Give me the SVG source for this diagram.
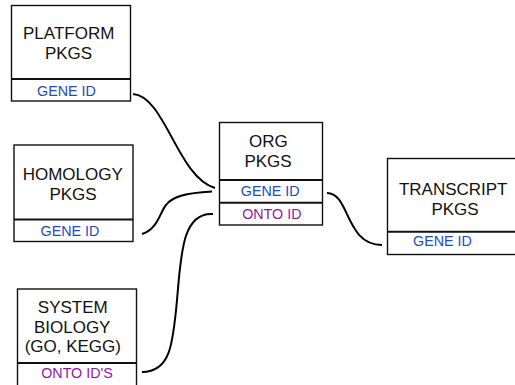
<svg xmlns="http://www.w3.org/2000/svg" width="515" height="385" viewBox="0 0 515 385">
<style>
.box{fill:#fff;stroke:#111;stroke-width:1.4}
.div{stroke:#111;stroke-width:2}
.t{font-family:"Liberation Sans",Arial,sans-serif;font-size:17px;fill:#111;text-anchor:middle}
.g{font-family:"Liberation Sans",Arial,sans-serif;font-size:14.3px;fill:#1f4db5;text-anchor:middle}
.o{font-family:"Liberation Sans",Arial,sans-serif;font-size:14.3px;fill:#8e1b9e;text-anchor:middle}
.c{fill:none;stroke:#000;stroke-width:2}
</style>
<rect width="515" height="385" fill="#fff"/>
<g id="connectors">
<path class="c" d="M133,94 C165,96 178,178 215,188"/>
<path class="c" d="M142,234 C158,229 160,212 166,205 C172,197 185,193 212,191.5"/>
<path class="c" d="M142,372 C170,372 173,345 177,300 C181,255 182,212 213,214"/>
<path class="c" d="M327,193 C350,193 345,245 382,245"/>
</g>
<g id="platform">
<rect class="box" x="11.5" y="5.5" width="119" height="95.5"/>
<line class="div" x1="11.5" y1="79" x2="130.5" y2="79"/>
<text class="t" x="68.7" y="38.5">PLATFORM</text>
<text class="t" x="68.5" y="59">PKGS</text>
<text class="g" x="66.5" y="96">GENE ID</text>
</g>
<g id="homology">
<rect class="box" x="14" y="145" width="119" height="96.5"/>
<line class="div" x1="14" y1="219.5" x2="133" y2="219.5"/>
<text class="t" x="72.7" y="180">HOMOLOGY</text>
<text class="t" x="73" y="200">PKGS</text>
<text class="g" x="70" y="236">GENE ID</text>
</g>
<g id="system">
<rect class="box" x="17.5" y="289" width="119" height="100"/>
<line class="div" x1="17.5" y1="363" x2="136.5" y2="363"/>
<text class="t" x="72.8" y="312.7">SYSTEM</text>
<text class="t" x="72.2" y="332.7">BIOLOGY</text>
<text class="t" x="72.8" y="352">(GO, KEGG)</text>
<text class="o" x="77" y="378">ONTO ID'S</text>
</g>
<g id="org">
<rect class="box" x="219.5" y="122.5" width="103" height="102.5"/>
<line class="div" x1="219.5" y1="180" x2="322.5" y2="180"/>
<line class="div" x1="219.5" y1="202.7" x2="322.5" y2="202.7"/>
<text class="t" x="268.3" y="146.7">ORG</text>
<text class="t" x="268" y="166.7">PKGS</text>
<text class="g" x="270.2" y="195.7">GENE ID</text>
<text class="o" x="271.8" y="218.7">ONTO ID</text>
</g>
<g id="transcript">
<rect class="box" x="387.5" y="158.5" width="135" height="96"/>
<line class="div" x1="387.5" y1="231.7" x2="522.5" y2="231.7"/>
<text class="t" x="453.2" y="195">TRANSCRIPT</text>
<text class="t" x="455" y="215">PKGS</text>
<text class="g" x="442.5" y="246">GENE ID</text>
</g>
</svg>
